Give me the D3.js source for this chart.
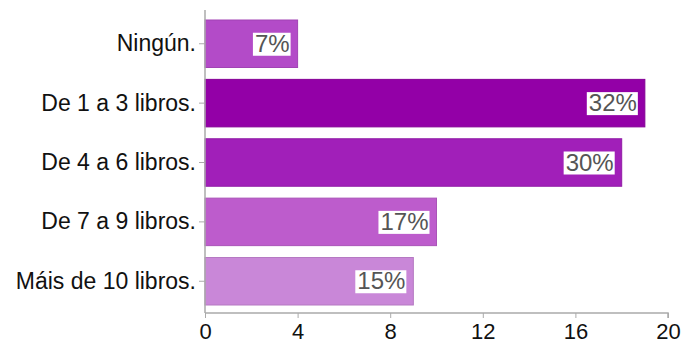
<!DOCTYPE html>
<html><head><meta charset="utf-8">
<script src="https://cdn.jsdelivr.net/npm/d3@7"></script>
<style>body{margin:0;background:#fff}</style>
</head><body>
<svg id="c" width="685" height="343"></svg>
<script>
const categories = ["Ningún.", "De 1 a 3 libros.", "De 4 a 6 libros.", "De 7 a 9 libros.", "Máis de 10 libros."];
const values = [4, 19, 18, 10, 9];
const percents = ["7%", "32%", "30%", "17%", "15%"];
const colors = ["#b34bc8", "#9300a7", "#a11fb9", "#bd5ccc", "#c987d8"];
const xTicks = [0, 4, 8, 12, 16, 20];

const svg = d3.select("#c");
const font = "Helvetica, 'Liberation Sans', Arial, sans-serif";
const x = d3.scaleLinear().domain([0, 20]).range([205, 668]);
const y = d3.scaleBand().domain(categories).range([20, 305]).paddingInner(0.2).paddingOuter(0);

// bars
svg.selectAll("rect.bar").data(categories).join("rect")
  .attr("class", "bar")
  .attr("x", x(0))
  .attr("y", d => y(d))
  .attr("width", (d, i) => x(values[i]) - x(0))
  .attr("height", y.bandwidth())
  .attr("fill", (d, i) => colors[i])
  .attr("stroke", (d, i) => d3.color(colors[i]).darker(0.3))
  .attr("stroke-width", 1);

// axes
const xAxis = d3.axisBottom(x).tickValues(xTicks).tickSize(5).tickPadding(5);
const gx = svg.append("g").attr("transform", "translate(0,313)").call(xAxis);
gx.select(".domain").attr("stroke", "#aaa").attr("stroke-width", 1.5).attr("d", `M${x(0)},0H${x(20)}V5`);
gx.selectAll(".tick line").attr("stroke", "#aaa");
gx.selectAll(".tick text").attr("font-family", font).attr("font-size", 22).attr("fill", "#111");

const yAxis = d3.axisLeft(y).tickSize(6).tickPadding(3);
const gy = svg.append("g").attr("transform", `translate(${x(0)},0)`).call(yAxis);
gy.select(".domain").attr("stroke", "#aaa").attr("stroke-width", 1.5).attr("d", "M0,10V313");
gy.selectAll(".tick line").attr("stroke", "#aaa");
gy.selectAll(".tick text").attr("font-family", font).attr("font-size", 23).attr("fill", "#111");

// value labels
const lab = svg.selectAll("g.lab").data(categories).join("g").attr("class", "lab");
lab.each(function(d, i) {
  const g = d3.select(this);
  const t = g.append("text")
    .attr("x", x(values[i]) - 8)
    .attr("y", y(d) + y.bandwidth() / 2 + 8)
    .attr("text-anchor", "end")
    .attr("font-family", font)
    .attr("font-size", 24)
    .attr("fill", "#555")
    .text(percents[i]);
  const b = t.node().getBBox();
  g.insert("rect", "text")
    .attr("x", b.x - 2).attr("y", b.y + 3)
    .attr("width", b.width + 3).attr("height", b.height - 4)
    .attr("fill", "#fff");
});
</script>
</body></html>
